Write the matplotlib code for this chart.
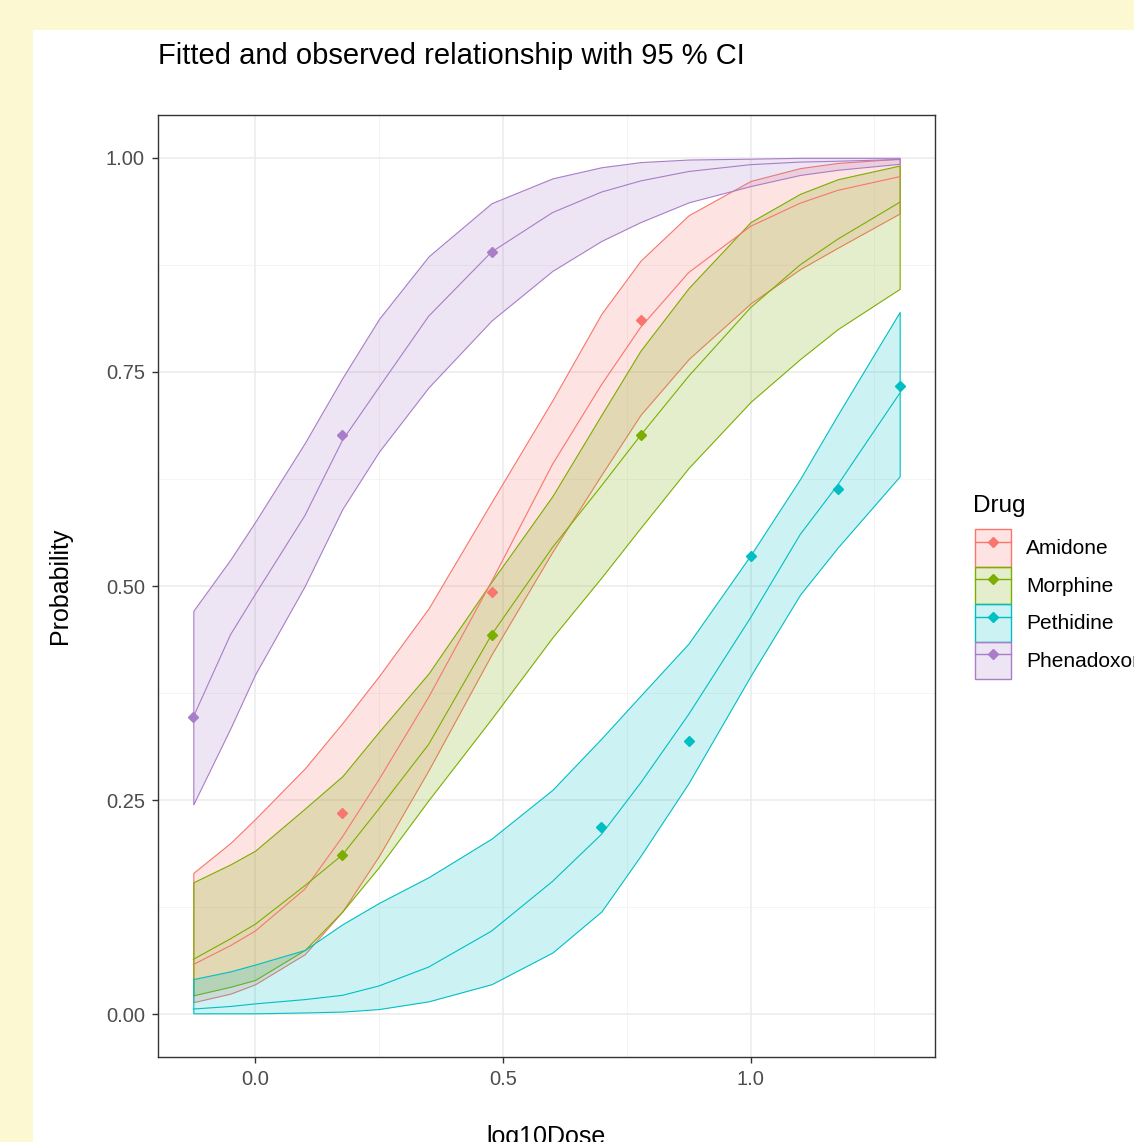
import matplotlib
matplotlib.use("Agg")
import matplotlib.pyplot as plt
from matplotlib.patches import Patch, Rectangle
from matplotlib.lines import Line2D
from matplotlib.legend_handler import HandlerTuple
from matplotlib.colors import to_rgba
import numpy as np

plt.rcParams['font.family'] = ['Liberation Sans', 'DejaVu Sans']

# ---------------- data ----------------
drugs = ["Amidone", "Morphine", "Pethidine", "Phenadoxone"]
colors = ["#F8766D", "#7CAE00", "#00BFC4", "#A97DC8"]

x_grid = [-0.125, -0.05, 0.0, 0.1, 0.176, 0.25, 0.35, 0.477, 0.6, 0.699,
          0.778, 0.875, 1.0, 1.1, 1.176, 1.301]

amidone_fit = [0.058, 0.080, 0.097, 0.146, 0.207, 0.274, 0.370, 0.505, 0.642, 0.735,
               0.802, 0.866, 0.920, 0.947, 0.962, 0.978]
amidone_upr = [0.165, 0.200, 0.228, 0.287, 0.340, 0.395, 0.474, 0.598, 0.717, 0.818,
               0.880, 0.933, 0.973, 0.988, 0.994, 0.999]
amidone_lwr = [0.014, 0.024, 0.035, 0.070, 0.120, 0.185, 0.285, 0.420, 0.540, 0.630,
               0.700, 0.765, 0.830, 0.870, 0.895, 0.935]

morphine_fit = [0.064, 0.088, 0.105, 0.150, 0.186, 0.240, 0.315, 0.443, 0.545, 0.617,
                0.676, 0.745, 0.825, 0.875, 0.905, 0.948]
morphine_upr = [0.154, 0.175, 0.191, 0.240, 0.278, 0.330, 0.398, 0.505, 0.605, 0.700,
                0.775, 0.848, 0.925, 0.958, 0.975, 0.991]
morphine_lwr = [0.022, 0.032, 0.040, 0.075, 0.120, 0.172, 0.250, 0.345, 0.440, 0.510,
                0.568, 0.638, 0.715, 0.765, 0.800, 0.847]

pethidine_fit = [0.006, 0.009, 0.012, 0.017, 0.022, 0.033, 0.055, 0.097, 0.155, 0.210,
                 0.270, 0.350, 0.463, 0.560, 0.618, 0.725]
pethidine_upr = [0.041, 0.050, 0.058, 0.075, 0.105, 0.130, 0.160, 0.205, 0.262, 0.322,
                 0.372, 0.433, 0.536, 0.625, 0.700, 0.820]
pethidine_lwr = [0.001, 0.001, 0.001, 0.002, 0.003, 0.006, 0.015, 0.035, 0.072, 0.120,
                 0.185, 0.270, 0.395, 0.490, 0.545, 0.628]

phenadoxone_fit = [0.347, 0.443, 0.490, 0.582, 0.670, 0.732, 0.815, 0.890, 0.936, 0.960,
                   0.973, 0.984, 0.992, 0.995, 0.996, 0.998]
phenadoxone_upr = [0.471, 0.531, 0.575, 0.667, 0.743, 0.812, 0.885, 0.947, 0.976, 0.989,
                   0.995, 0.998, 0.999, 1.000, 1.000, 1.000]
phenadoxone_lwr = [0.245, 0.334, 0.397, 0.500, 0.590, 0.657, 0.732, 0.810, 0.868, 0.903,
                   0.925, 0.948, 0.967, 0.980, 0.986, 0.993]

obs_x = {
    "Amidone": [0.176, 0.477, 0.778],
    "Morphine": [0.176, 0.477, 0.778],
    "Pethidine": [0.699, 0.875, 1.0, 1.176, 1.301],
    "Phenadoxone": [-0.125, 0.176, 0.477],
}
obs_p = {
    "Amidone": [0.235, 0.493, 0.811],
    "Morphine": [0.186, 0.443, 0.676],
    "Pethidine": [0.218, 0.319, 0.535, 0.613, 0.734],
    "Phenadoxone": [0.347, 0.676, 0.890],
}

fits = [amidone_fit, morphine_fit, pethidine_fit, phenadoxone_fit]
uprs = [amidone_upr, morphine_upr, pethidine_upr, phenadoxone_upr]
lwrs = [amidone_lwr, morphine_lwr, pethidine_lwr, phenadoxone_lwr]

# ---------------- figure ----------------
W, H = 1134, 1142
fig = plt.figure(figsize=(W / 100, H / 100), dpi=100)
fig.patch.set_facecolor("#FCF8D2")
bg = Rectangle((33 / W, 0), 1 - 33 / W, 1 - 30 / H,
               transform=fig.transFigure, facecolor="white",
               edgecolor="none", zorder=-10)
fig.patches.append(bg)

ax = fig.add_axes([158 / W, 1 - 1057 / H, (935 - 158) / W, (1057 - 115) / H])
ax.set_zorder(1)
ax.set_facecolor("white")

FILL_A = 0.2
for d, c, f, u, l in zip(drugs, colors, fits, uprs, lwrs):
    ax.fill_between(x_grid, l, u, facecolor=to_rgba(c, FILL_A),
                    edgecolor=c, linewidth=0.8, zorder=2)
for d, c, f in zip(drugs, colors, fits):
    ax.plot(x_grid, f, color=c, linewidth=0.8, zorder=3)
for d, c in zip(drugs, colors):
    ax.plot(obs_x[d], obs_p[d], linestyle="none", marker="D", markersize=5,
            color=c, zorder=4)

xmin, xmax = -0.125, 1.301
xr = xmax - xmin
ax.set_xlim(xmin - 0.05 * xr, xmax + 0.05 * xr)
ax.set_ylim(-0.05, 1.05)

ax.set_xticks([0.0, 0.5, 1.0])
ax.set_xticklabels(["0.0", "0.5", "1.0"])
ax.set_xticks([0.25, 0.75, 1.25], minor=True)
ax.set_yticks([0.0, 0.25, 0.5, 0.75, 1.0])
ax.set_yticklabels(["0.00", "0.25", "0.50", "0.75", "1.00"])
ax.set_yticks([0.125, 0.375, 0.625, 0.875], minor=True)

ax.grid(True, which="major", color="#EBEBEB", linewidth=1.1, zorder=0)
ax.grid(True, which="minor", color="#F2F2F2", linewidth=0.6, zorder=0)
ax.set_axisbelow(True)
for s in ax.spines.values():
    s.set_color("#333333")
    s.set_linewidth(1.0)
ax.tick_params(which="major", length=4.5, width=1.0, color="#333333",
               labelcolor="#4D4D4D", labelsize=14.5, pad=5)
ax.tick_params(which="minor", length=0)

ax.set_ylabel("Probability", fontsize=18, color="black", labelpad=24)
ax.set_xlabel("log10Dose", fontsize=18, color="black", labelpad=26)

fig.text(158 / W, 1 - 56 / H, "Fitted and observed relationship with 95 % CI",
         fontsize=21, ha="left", va="center", color="black")

# legend title and keys
fig.text(973 / W, 1 - 506 / H, "Drug", fontsize=17.5, ha="left", va="center",
         color="black")
handles = [(Patch(facecolor=to_rgba(c, FILL_A), edgecolor=c, linewidth=1.0),
            Line2D([], [], color=c, marker="D", markersize=5, linewidth=1.0))
           for c in colors]
leg = ax.legend(handles, drugs, handler_map={tuple: HandlerTuple(ndivide=1, pad=0)},
                loc="upper left", bbox_to_anchor=(975 / W, 1 - 529 / H),
                bbox_transform=fig.transFigure, frameon=False, fontsize=15,
                handlelength=1.75, handleheight=2.4, labelspacing=0.0,
                handletextpad=0.7, borderaxespad=0, borderpad=0)

fig.savefig("out.png", dpi=100, facecolor=fig.get_facecolor())
